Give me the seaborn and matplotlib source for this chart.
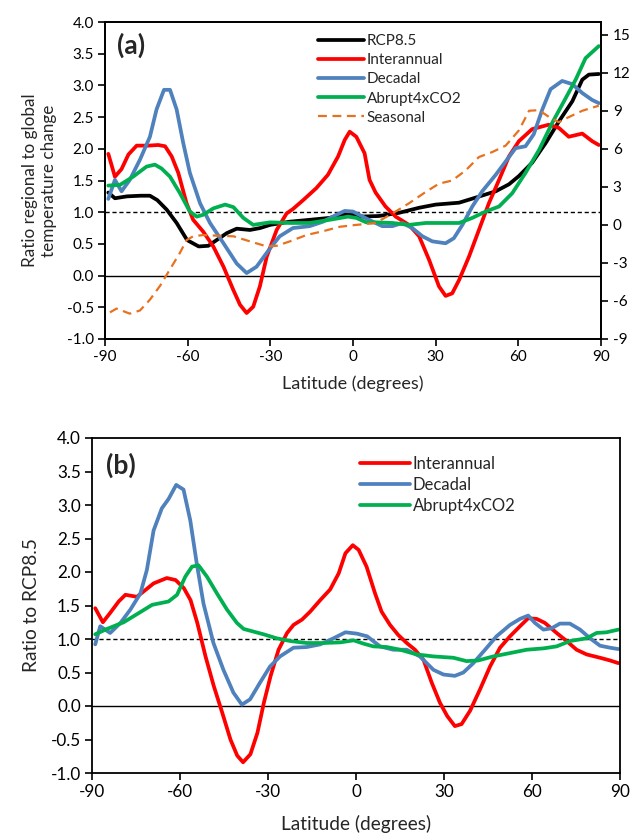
import matplotlib
matplotlib.use("Agg")
import matplotlib.pyplot as plt
import seaborn as sns
import pandas as pd
import numpy as np

# ---------------- Panel (a) data ----------------
rcp_lat = [-88.8,-86.4,-82,-77,-73.7,-71,-67.6,-64,-60.2,-56,-52.5,-49.5,-45.8,-42.2,-37.4,-33.7,-30.1,-23,-15.7,-8.5,-3.6,0,2.2,9.4,16.7,24,30,38.5,44.5,51.8,56.6,60.2,65,69.9,74.7,79.6,83.2,85.6,89.2]
rcp_val = [1.31,1.22,1.25,1.26,1.26,1.19,1.04,0.83,0.56,0.46,0.47,0.56,0.67,0.74,0.72,0.75,0.80,0.85,0.88,0.91,0.96,0.97,0.93,0.94,0.99,1.07,1.12,1.15,1.23,1.33,1.44,1.57,1.78,2.09,2.43,2.75,3.09,3.17,3.18]

int_lat = [-88.8,-86.4,-84,-81.5,-78.5,-74.3,-70.7,-68.2,-65.8,-63.4,-60.4,-58,-54.3,-50.7,-47,-43.4,-41,-38.6,-36.2,-33.8,-31.3,-27.7,-24.1,-21.8,-18.1,-13.3,-9.1,-5.4,-3,-1.2,1.2,4.2,6.0,8.2,11.8,15.5,20.3,24,27.6,31.2,33.6,36,38.5,42.1,45.7,49.3,53,56.6,60.2,65,71,74.7,78.3,83.2,86.8,89.2]
int_val = [1.92,1.56,1.68,1.91,2.05,2.05,2.06,2.04,1.88,1.62,1.14,0.88,0.69,0.46,0.14,-0.23,-0.46,-0.59,-0.49,-0.17,0.30,0.72,0.98,1.05,1.19,1.38,1.59,1.88,2.14,2.27,2.19,1.93,1.51,1.31,1.09,0.93,0.80,0.62,0.25,-0.17,-0.32,-0.28,-0.07,0.30,0.72,1.14,1.51,1.88,2.12,2.31,2.38,2.33,2.19,2.24,2.12,2.06]

dec_lat = [-88.8,-86.4,-84,-81,-77.3,-73.7,-71.3,-68.6,-66.4,-64,-61.6,-59.2,-55.5,-51.9,-47,-42.2,-38.6,-35,-30.1,-26.6,-21.8,-15.7,-10.9,-6,-3,0,2.2,5.8,10.6,14.3,17.9,21.5,25.2,28.8,33.6,36.6,39.7,43.3,46.9,51.8,55.4,59,62.6,65.6,68.7,71.7,75.9,79.6,83.2,86.8,89.2]
dec_val = [1.21,1.51,1.33,1.51,1.83,2.19,2.62,2.93,2.93,2.62,2.09,1.62,1.14,0.83,0.51,0.19,0.04,0.14,0.43,0.62,0.75,0.78,0.85,0.96,1.02,1.01,0.96,0.88,0.78,0.78,0.83,0.75,0.62,0.54,0.51,0.59,0.80,1.09,1.33,1.59,1.80,2.01,2.04,2.23,2.62,2.94,3.07,3.02,2.88,2.77,2.72]

abr_lat = [-88.8,-84.6,-79.8,-74.9,-71.9,-69.5,-66.4,-62.8,-59.2,-56.7,-54.3,-50.7,-46.4,-43.4,-39.8,-36.2,-30.1,-22.9,-15.7,-8.5,-1.8,1.2,4.8,8.2,14.3,20.3,26.4,32.4,38.5,43.3,48.1,53,57.8,62.6,67.5,72.3,77.2,80.8,84.4,89.2]
abr_val = [1.42,1.43,1.56,1.72,1.75,1.69,1.56,1.30,1.01,0.93,0.96,1.06,1.12,1.08,0.91,0.80,0.84,0.83,0.83,0.88,0.93,0.91,0.84,0.84,0.83,0.80,0.83,0.83,0.83,0.91,1.01,1.09,1.30,1.62,1.98,2.41,2.80,3.09,3.43,3.62]

sea_lat = [-88.2,-85.8,-81,-77.3,-73.7,-70,-66.4,-62.8,-60.4,-58,-54.3,-49.5,-43.4,-37.4,-31.3,-27.7,-22.9,-16.9,-10.9,-4.8,1.2,6,8.2,14.3,20.3,26.4,31.2,36,40.9,45.7,50.6,55.4,60.2,63.9,67.5,71.2,74.7,78.3,83.2,89.2]
sea_val = [-6.9,-6.6,-7.0,-6.75,-5.9,-4.8,-3.5,-2.2,-1.2,-0.9,-0.8,-0.85,-0.9,-1.3,-1.7,-1.65,-1.3,-0.8,-0.5,-0.15,0.0,0.1,0.15,0.9,1.7,2.6,3.25,3.5,4.3,5.35,5.75,6.25,7.45,9.0,9.05,8.5,8.1,8.5,9.0,9.4]

# ---------------- Panel (b) data ----------------
int_b_lat = [-88.9,-86.3,-83.8,-80.9,-78.6,-74.7,-72.4,-69,-64.5,-61.5,-58.7,-56.4,-54.1,-51.3,-48.5,-45.6,-42.8,-40.5,-38.5,-36,-33.6,-31.4,-29.1,-26.4,-23.5,-21.3,-18.4,-15.6,-12.2,-8.8,-5.9,-3.6,-1.1,0.9,3.6,6.5,8.7,11.6,14.4,17.3,20.1,23,25.8,28.6,31.1,33.7,36,38.9,42.3,45.7,49.1,52.5,55.9,58.7,61.6,64.4,68.4,71.8,75.2,78.6,83.2,86.6,89.4]
int_b_val = [1.46,1.25,1.39,1.56,1.66,1.63,1.71,1.83,1.91,1.88,1.76,1.58,1.24,0.74,0.30,-0.10,-0.50,-0.74,-0.84,-0.72,-0.40,0.05,0.45,0.84,1.09,1.21,1.29,1.41,1.58,1.74,1.98,2.28,2.40,2.33,2.08,1.68,1.41,1.21,1.06,0.94,0.84,0.69,0.35,0.05,-0.15,-0.30,-0.27,-0.07,0.25,0.59,0.87,1.04,1.19,1.31,1.30,1.24,1.09,0.97,0.84,0.77,0.72,0.68,0.64]

dec_b_lat = [-88.9,-87.2,-83.8,-80.3,-76.9,-73.5,-71.3,-69,-66.2,-63.9,-61.3,-58.8,-56.5,-54.3,-52,-48.6,-45.2,-41.8,-38.9,-36.1,-32.7,-29.3,-25.9,-21.3,-16.8,-12.2,-7.7,-3.6,0.3,3.8,8.2,12.7,17.3,21.8,26.4,29.8,33.7,36.6,40,44,47.9,52.5,55.9,58.7,61,63.9,66.7,69.5,72.9,76.4,79.8,83.2,86.6,89.4]
dec_b_val = [0.92,1.19,1.09,1.24,1.44,1.68,2.03,2.62,2.95,3.09,3.30,3.23,2.77,2.13,1.53,0.94,0.54,0.20,0.02,0.10,0.35,0.59,0.74,0.87,0.88,0.92,1.01,1.10,1.08,1.04,0.89,0.84,0.84,0.74,0.54,0.47,0.45,0.50,0.64,0.84,1.04,1.21,1.30,1.35,1.24,1.14,1.16,1.23,1.23,1.14,1.01,0.90,0.87,0.85]

abr_b_lat = [-88.9,-84.9,-79.2,-74.7,-69.5,-63.9,-61,-58.2,-55.9,-53.7,-50.8,-47.4,-44,-40.6,-38.3,-34.9,-31.5,-27,-22.4,-16.8,-11.1,-5.3,-0.8,2.6,5.9,10.5,15,20.7,26.4,33.2,37.7,41.7,46.8,52.5,58.2,63.9,68.4,73,78.6,82,85.4,89.4]
abr_b_val = [1.07,1.15,1.25,1.37,1.51,1.56,1.66,1.93,2.08,2.10,1.93,1.68,1.44,1.24,1.15,1.11,1.07,1.01,0.97,0.94,0.94,0.95,0.98,0.93,0.89,0.88,0.84,0.77,0.74,0.72,0.67,0.68,0.74,0.79,0.84,0.86,0.89,0.97,1.01,1.09,1.10,1.14]

xticks = [-90, -60, -30, 0, 30, 60, 90]
yticks = [-1.0, -0.5, 0.0, 0.5, 1.0, 1.5, 2.0, 2.5, 3.0, 3.5, 4.0]
rticks = [-9, -6, -3, 0, 3, 6, 9, 12, 15]

C_RED = "#FF0000"
C_BLUE = "#4F81BD"
C_GREEN = "#00B050"
C_ORANGE = "#E8711F"

sns.set_theme(style="ticks")
plt.rcParams['font.family'] = ['Lato', 'DejaVu Sans']
plt.rcParams['font.size'] = 11

fig = plt.figure(figsize=(6.4, 8.36), dpi=100)
axa = fig.add_axes([105/640, 1-339/836, 496/640, 317/836])
axb = fig.add_axes([92/640, 1-773/836, 528/640, 335/836])

LW = 2.7

def draw(ax, lat, val, color, label, **kw):
    df = pd.DataFrame({"lat": lat, "val": val})
    sns.lineplot(data=df, x="lat", y="val", ax=ax, color=color, label=label,
                 sort=False, estimator=None, **kw)

def style(ax, tfs, lfs, xpad):
    ax.set_xlim(-90, 90)
    ax.set_ylim(-1.0, 4.0)
    ax.set_xticks(xticks)
    ax.set_xticklabels([str(t) for t in xticks], fontsize=tfs)
    ax.set_yticks(yticks)
    ax.set_yticklabels([f"{t:.1f}" for t in yticks], fontsize=tfs)
    ax.tick_params(direction="out", length=5, width=1.2, colors="black", pad=3)
    for s in ax.spines.values():
        s.set_visible(True)
        s.set_color("black")
        s.set_linewidth(1.3)
    ax.axhline(1.0, color="black", lw=1.0, ls=(0, (3, 2)), zorder=1)
    ax.axhline(0.0, color="black", lw=1.0, zorder=1)
    ax.set_xlabel("Latitude (degrees)", fontsize=lfs, labelpad=xpad)

# ----- Panel (a)
axr = axa.twinx()
draw(axa, rcp_lat, rcp_val, "black", "RCP8.5", lw=LW)
draw(axa, int_lat, int_val, C_RED, "Interannual", lw=LW)
draw(axa, dec_lat, dec_val, C_BLUE, "Decadal", lw=LW)
draw(axa, abr_lat, abr_val, C_GREEN, "Abrupt4xCO2", lw=LW)
draw(axr, sea_lat, sea_val, C_ORANGE, "Seasonal", lw=1.6, dashes=False, linestyle=(0, (4, 2.5)))
style(axa, 11, 13, 8)
axa.set_ylabel("Ratio regional to global\ntemperature change", fontsize=12.3, labelpad=7,
               linespacing=1.2)
axr.set_ylim(-9, 16)
axr.set_yticks(rticks)
axr.set_yticklabels([str(t) for t in rticks], fontsize=11)
axr.tick_params(direction="out", length=5, width=1.2, colors="black")
axr.set_ylabel("")
for s in axr.spines.values():
    s.set_color("black")
    s.set_linewidth(1.3)

h1, l1 = axa.get_legend_handles_labels()
h2, l2 = axr.get_legend_handles_labels()
if axr.get_legend():
    axr.get_legend().remove()
axa.legend(h1 + h2, l1 + l2, loc="upper left", bbox_to_anchor=(0.429, 0.962),
           frameon=False, fontsize=11, handlelength=3.0, handletextpad=0.2,
           labelspacing=0.34, borderaxespad=0, borderpad=0)
axa.text(0.024, 0.925, "(a)", transform=axa.transAxes, fontsize=19,
         fontweight="bold", va="center", ha="left")

# ----- Panel (b)
draw(axb, int_b_lat, int_b_val, C_RED, "Interannual", lw=LW)
draw(axb, dec_b_lat, dec_b_val, C_BLUE, "Decadal", lw=LW)
draw(axb, abr_b_lat, abr_b_val, C_GREEN, "Abrupt4xCO2", lw=LW)
style(axb, 12.3, 13.8, 11)
axb.set_ylabel("Ratio to RCP8.5", fontsize=13.8, labelpad=8)
axb.legend(loc="upper left", bbox_to_anchor=(0.508, 0.946),
           frameon=False, fontsize=12, handlelength=3.0, handletextpad=0.15,
           labelspacing=0.3, borderaxespad=0, borderpad=0)
axb.text(0.026, 0.918, "(b)", transform=axb.transAxes, fontsize=19,
         fontweight="bold", va="center", ha="left")

fig.savefig("out.png", dpi=100)
